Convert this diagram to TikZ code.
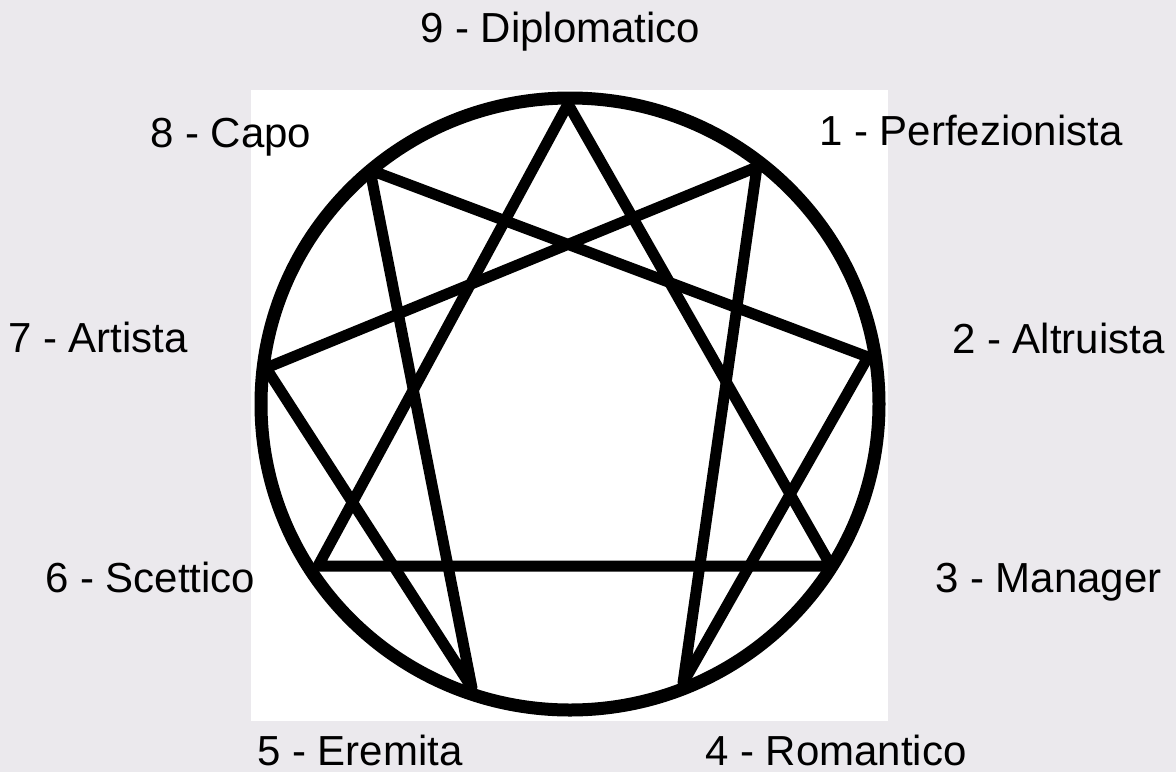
\documentclass[tikz,border=0pt]{standalone}
\usepackage{fontspec}
\setmainfont{Liberation Sans}
\definecolor{bgcol}{RGB}{235,233,237}
\tikzset{
  lbl/.style={anchor=base west, inner sep=0pt, font=\fontsize{42}{50}\selectfont, text=black},
  ring/.style={draw=black, line width=13pt},
  chord/.style={draw=black, line width=11pt, line join=round}
}
\begin{document}
\begin{tikzpicture}[x=1pt,y=-1pt]
\fill[bgcol] (0,0) rectangle (1176,772);
\useasboundingbox (0,0) rectangle (1176,772);
\fill[white] (251,90) rectangle (888,721);
\draw[ring] (570,404) ellipse [x radius=309, y radius=306];
\coordinate (p9) at (568,104);
\coordinate (p1) at (757,167);
\coordinate (p2) at (868,357);
\coordinate (p3) at (831,566);
\coordinate (p4) at (683,683);
\coordinate (p5) at (472,688);
\coordinate (p6) at (318,566);
\coordinate (p7) at (266,368);
\coordinate (p8) at (370,170);
\draw[chord] (p9) -- (p3) -- (p6) -- cycle;
\draw[chord] (p1) -- (p4) -- (p2) -- (p8) -- (p5) -- (p7) -- cycle;
\node[lbl] (l9) at (420,42) {9 - Diplomatico};
\node[lbl] (l8) at (150,147) {8 - Capo};
\node[lbl] (l1) at (819,145) {1 - Perfezionista};
\node[lbl] (l7) at (8,352) {7 - Artista};
\node[lbl] (l2) at (952,353) {2 - Altruista};
\node[lbl] (l6) at (45,592) {6 - Scettico};
\node[lbl] (l3) at (935,592) {3 - Manager};
\node[lbl] (l5) at (257,765) {5 - Eremita};
\node[lbl] (l4) at (705,765) {4 - Romantico};
\end{tikzpicture}
\end{document}
